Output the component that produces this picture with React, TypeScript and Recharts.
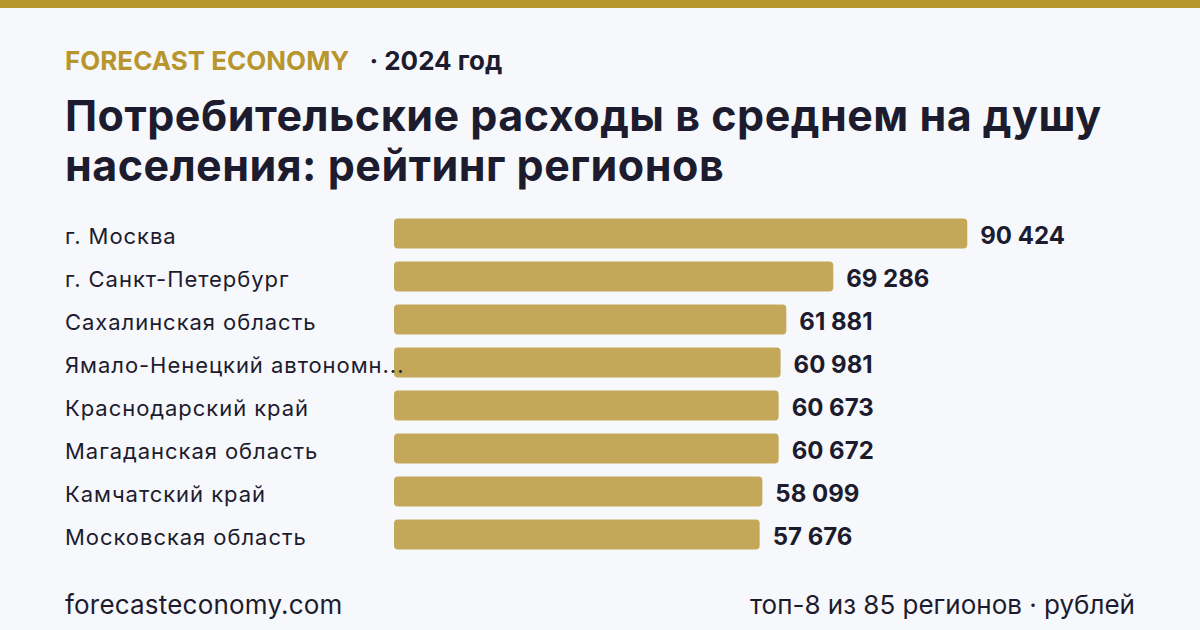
import React from "react";
import { BarChart, Bar, XAxis, YAxis, LabelList } from "recharts";

const regions = [
  "г. Москва",
  "г. Санкт-Петербург",
  "Сахалинская область",
  "Ямало-Ненецкий автономн...",
  "Краснодарский край",
  "Магаданская область",
  "Камчатский край",
  "Московская область",
];
const spending = [90424, 69286, 61881, 60981, 60673, 60672, 58099, 57676];

const data = regions.map((name, i) => ({ name, value: spending[i] }));

const FONT = "Inter, 'Noto Sans', sans-serif";
const GOLD = "#b8962e";
const BAR = "#c4a85a";
const DARK = "#1c1c2e";

const fmt = (v: number) => {
  const s = String(Math.round(v));
  return s.replace(/\B(?=(\d{3})+(?!\d))/g, " ");
};

const LEFT = 65;

const CategoryTick = (props: any) => {
  const { y, payload } = props;
  return (
    <text
      x={LEFT}
      y={y}
      dy={10.5}
      textAnchor="start"
      fill={DARK}
      fontSize={22}
      letterSpacing={0.95}
      fontFamily={FONT}
    >
      {payload.value}
    </text>
  );
};

export default function App() {
  return (
    <div
      style={{
        position: "absolute",
        left: 0,
        top: 0,
        width: 1200,
        height: 630,
        background: "#f7f8fc",
        overflow: "hidden",
        fontFamily: FONT,
      }}
    >
      <div style={{ position: "absolute", left: 0, top: 0, width: 1200, height: 8, background: GOLD }} />
      <div
        style={{
          position: "absolute",
          left: LEFT,
          top: 43,
          fontSize: 26,
          fontWeight: 700,
          lineHeight: "36px",
          whiteSpace: "nowrap",
        }}
      >
        <span style={{ color: GOLD }}>FORECAST ECONOMY</span>
        <span style={{ color: DARK, marginLeft: 20 }}>· 2024 год</span>
      </div>
      <div
        style={{
          position: "absolute",
          left: LEFT,
          top: 90,
          width: 1130,
          fontSize: 43,
          fontWeight: 700,
          letterSpacing: 0.5,
          lineHeight: "50px",
          color: DARK,
          whiteSpace: "nowrap",
        }}
      >
        Потребительские расходы в среднем на душу
        <br />
        населения: рейтинг регионов
      </div>
      <div style={{ position: "absolute", left: 0, top: 0 }}>
        <BarChart
          width={1200}
          height={630}
          data={data}
          layout="vertical"
          margin={{ top: 211.5, bottom: 74.5, left: LEFT, right: 172 }}
          barCategoryGap={13}
        >
          <XAxis type="number" domain={[0, 100000]} hide />
          <YAxis
            type="category"
            dataKey="name"
            width={329}
            axisLine={false}
            tickLine={false}
            tick={<CategoryTick />}
            interval={0}
          />
          <Bar dataKey="value" fill={BAR} barSize={30} radius={4} isAnimationActive={false}>
            <LabelList
              dataKey="value"
              position="right"
              offset={13}
              dy={2}
              formatter={(v: any) => fmt(Number(v))}
              fill={DARK}
              fontSize={24}
              fontWeight={700}
              fontFamily={FONT}
            />
          </Bar>
        </BarChart>
      </div>
      <div
        style={{
          position: "absolute",
          left: LEFT,
          top: 590,
          fontSize: 26,
          letterSpacing: 0.2,
          color: DARK,
          lineHeight: "30px",
        }}
      >
        forecasteconomy.com
      </div>
      <div
        style={{
          position: "absolute",
          right: 65,
          top: 590,
          fontSize: 26,
          letterSpacing: 0,
          color: DARK,
          lineHeight: "30px",
          whiteSpace: "nowrap",
        }}
      >
        топ-8 из 85 регионов · рублей
      </div>
    </div>
  );
}
